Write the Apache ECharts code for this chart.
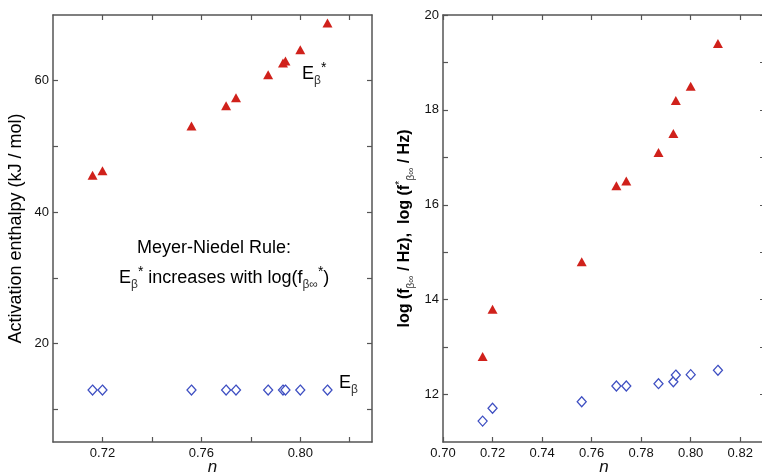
<!DOCTYPE html>
<html>
<head>
<meta charset="utf-8">
<script src="https://cdn.jsdelivr.net/npm/echarts@6/dist/echarts.min.js"></script>
<style>html,body{margin:0;padding:0;background:#fff}#c{width:762px;height:475px}</style>
</head>
<body>
<div id="c"></div>
<script>
// ---- data ----
var nVals = [0.716, 0.720, 0.756, 0.770, 0.774, 0.787, 0.793, 0.794, 0.800, 0.811];
var eStar = [45.6, 46.3, 53.1, 56.2, 57.4, 60.9, 62.7, 63.0, 64.7, 68.8];
var eBeta = [12.9, 12.9, 12.9, 12.9, 12.9, 12.9, 12.9, 12.9, 12.9, 12.9];
var logFStar = [12.8, 13.8, 14.8, 16.4, 16.5, 17.1, 17.5, 18.2, 18.5, 19.4];
var logF = [11.44, 11.71, 11.85, 12.18, 12.18, 12.23, 12.27, 12.41, 12.42, 12.51];

var leftXTicks = [0.72, 0.74, 0.76, 0.78, 0.80, 0.82];
var leftXLabels = [0.72, 0.76, 0.80];
var leftYTicks = [10, 20, 30, 40, 50, 60];
var leftYLabels = [20, 40, 60];
var rightXTicks = [0.70, 0.72, 0.74, 0.76, 0.78, 0.80, 0.82];
var rightXLabels = [0.70, 0.72, 0.74, 0.76, 0.78, 0.80, 0.82];
var rightYTicks = [12, 13, 14, 15, 16, 17, 18, 19, 20];
var rightYLabels = [12, 14, 16, 18, 20];

function zip(a, b) { return a.map(function (v, i) { return [v, b[i]]; }); }

var FONT = "'Liberation Sans', Arial, sans-serif";
var AX = { lineStyle: { color: '#555', width: 1.5 } };
var TICK = { inside: true, length: 5, lineStyle: { color: '#555', width: 1.2 } };

function xAx(grid, pos, min, max, ticks, labels, showLabel, name) {
  return {
    type: 'value', gridIndex: grid, position: pos, min: min, max: max,
    axisLine: AX, splitLine: { show: false },
    axisTick: Object.assign({ customValues: ticks }, TICK),
    axisLabel: { show: showLabel, customValues: labels, margin: 5, fontSize: 13, color: '#111', fontFamily: FONT,
      formatter: function (v) { return v.toFixed(2); } },
    name: name || '', nameLocation: 'middle', nameGap: 17, nameMoveOverlap: false,
    nameTextStyle: { fontSize: 17, fontStyle: 'italic', color: '#111', fontFamily: FONT }
  };
}
function yAx(grid, pos, min, max, ticks, labels, showLabel, name, nameStyle, gap) {
  return {
    type: 'value', gridIndex: grid, position: pos, min: min, max: max,
    axisLine: AX, splitLine: { show: false },
    axisTick: Object.assign({ customValues: ticks }, TICK),
    axisLabel: { show: showLabel, customValues: labels, margin: 4, fontSize: 13, color: '#111', fontFamily: FONT },
    name: name || '', nameLocation: 'middle', nameGap: gap || 30, nameRotate: 90, nameMoveOverlap: false,
    nameTextStyle: nameStyle || {}
  };
}

var rightName = '{m|log (f}{s|β∞}{m| / Hz),  log (f}{p|*}{s|β∞}{m| / Hz)}';
var rightNameStyle = {
  fontFamily: FONT, color: '#000',
  rich: {
    m: { fontSize: 16, fontWeight: 'bold', lineHeight: 22, fontFamily: FONT, color: '#000' },
    s: { fontSize: 10, lineHeight: 10, verticalAlign: 'bottom', fontFamily: FONT, color: '#333' },
    p: { fontSize: 11, lineHeight: 11, verticalAlign: 'top', fontFamily: FONT, color: '#000' }
  }
};

var annRich = {
  m: { fontSize: 18, lineHeight: 26, fontFamily: FONT, fill: '#000' },
  s: { fontSize: 12, lineHeight: 12, verticalAlign: 'bottom', fontFamily: FONT, fill: '#333' },
  p: { fontSize: 14, lineHeight: 14, verticalAlign: 'top', fontFamily: FONT, fill: '#000' }
};

var option = {
  animation: false,
  backgroundColor: '#fff',
  grid: [
    { left: 53, top: 15, width: 319, height: 427, containLabel: false, outerBoundsMode: 'none' },
    { left: 443, top: 15, width: 322, height: 427, containLabel: false, outerBoundsMode: 'none' }
  ],
  xAxis: [
    xAx(0, 'bottom', 0.70, 0.829, leftXTicks, leftXLabels, true, 'n'),
    xAx(0, 'top', 0.70, 0.829, leftXTicks, leftXLabels, false),
    xAx(1, 'bottom', 0.70, 0.83, rightXTicks, rightXLabels, true, 'n'),
    xAx(1, 'top', 0.70, 0.83, rightXTicks, rightXLabels, false)
  ],
  yAxis: [
    yAx(0, 'left', 5, 70, leftYTicks, leftYLabels, true, 'Activation enthalpy (kJ / mol)',
      { fontSize: 18, color: '#000', fontFamily: FONT }, 28),
    yAx(0, 'right', 5, 70, leftYTicks, leftYLabels, false),
    yAx(1, 'left', 11, 20, rightYTicks, rightYLabels, true, rightName, rightNameStyle, 27),
    yAx(1, 'right', 11, 20, rightYTicks, rightYLabels, false)
  ],
  series: [
    { type: 'scatter', xAxisIndex: 0, yAxisIndex: 0, data: zip(nVals, eStar), symbol: 'triangle', symbolSize: [10, 9],
      itemStyle: { color: '#d0211b', opacity: 1 } },
    { type: 'scatter', xAxisIndex: 0, yAxisIndex: 0, data: zip(nVals, eBeta), symbol: 'diamond', symbolSize: [9, 10],
      itemStyle: { color: '#fff', borderColor: '#3e4fc2', borderWidth: 1.3, opacity: 1 } },
    { type: 'scatter', xAxisIndex: 2, yAxisIndex: 2, data: zip(nVals, logFStar), symbol: 'triangle', symbolSize: [10, 9],
      itemStyle: { color: '#d0211b', opacity: 1 } },
    { type: 'scatter', xAxisIndex: 2, yAxisIndex: 2, data: zip(nVals, logF), symbol: 'diamond', symbolSize: [9, 10],
      itemStyle: { color: '#fff', borderColor: '#3e4fc2', borderWidth: 1.3, opacity: 1 } }
  ],
  graphic: [
    { type: 'text', left: 302, top: 61, style: { text: '{m|E}{s|β}{p|*}', rich: annRich } },
    { type: 'text', left: 339, top: 374, style: { text: '{m|E}{s|β}', rich: annRich } },
    { type: 'text', left: 137, top: 239, style: { text: '{m|Meyer-Niedel Rule:}', rich: annRich } },
    { type: 'text', left: 119, top: 265, style: { text: '{m|E}{s|β}{p|*}{m| increases with log(f}{s|β∞}{p|*}{m|)}', rich: annRich } }
  ]
};

var chart = echarts.init(document.getElementById('c'), null, { renderer: 'canvas' });
chart.setOption(option);
</script>
</body>
</html>
